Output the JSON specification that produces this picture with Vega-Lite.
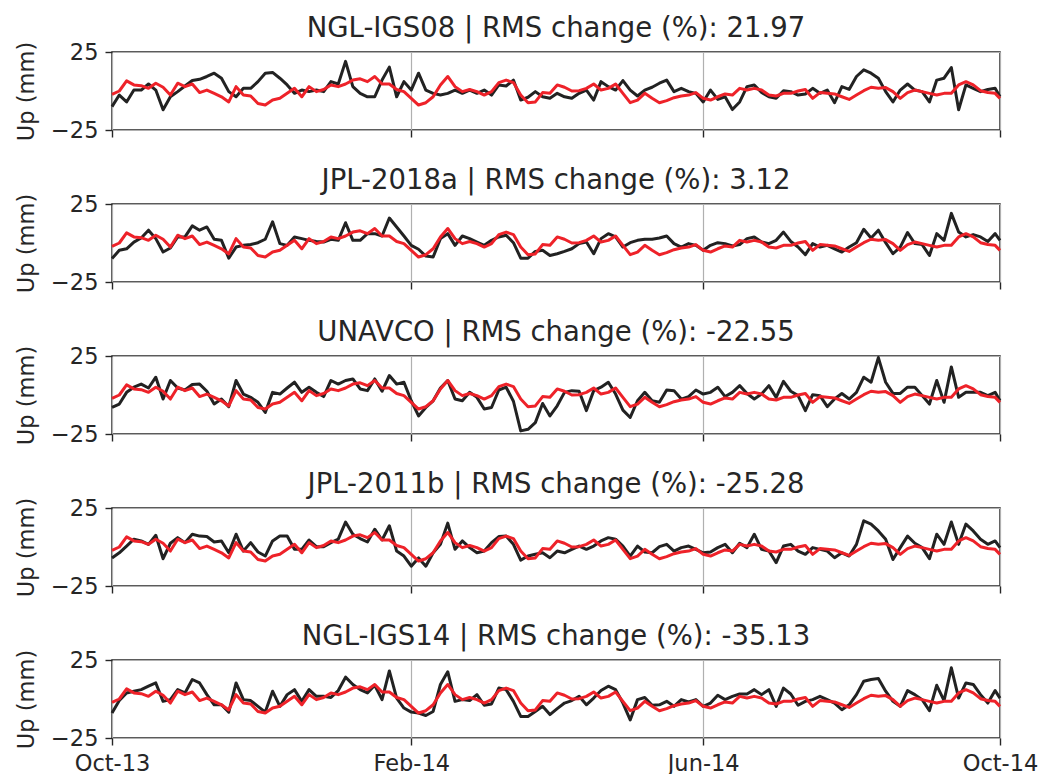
{
"$schema": "https://vega.github.io/schema/vega-lite/v6.json",
"padding": {"top": 13, "left": 14, "right": 5, "bottom": 0},
"background": "white",
"datasets": {
"ts": [
{"t":"2013-10-01","ngl08":-10,"jpl18":-10,"unavco":-8,"jpl11":-7,"ngl14":-9,"model":-2.2},
{"t":"2013-10-04","ngl08":-2.6,"jpl18":-4.7,"unavco":-5.8,"jpl11":-3.7,"ngl14":-1,"model":0},
{"t":"2013-10-07","ngl08":-7,"jpl18":-3.7,"unavco":1.7,"jpl11":0.6,"ngl14":3.9,"model":6.5},
{"t":"2013-10-10","ngl08":0.6,"jpl18":0.6,"unavco":5,"jpl11":5,"ngl14":5,"model":3.9},
{"t":"2013-10-13","ngl08":0.6,"jpl18":3.2,"unavco":7,"jpl11":3.9,"ngl14":6,"model":3.4},
{"t":"2013-10-16","ngl08":4.5,"jpl18":8.2,"unavco":4.5,"jpl11":1.7,"ngl14":8.2,"model":1.7},
{"t":"2013-10-19","ngl08":0.6,"jpl18":2.8,"unavco":11.4,"jpl11":7.5,"ngl14":10.3,"model":5},
{"t":"2013-10-22","ngl08":-12,"jpl18":-5.8,"unavco":-2.6,"jpl11":-7.5,"ngl14":-1.5,"model":2.4},
{"t":"2013-10-25","ngl08":-3.7,"jpl18":-3.2,"unavco":9.3,"jpl11":2.4,"ngl14":-0.4,"model":-2.6},
{"t":"2013-10-28","ngl08":-0.4,"jpl18":3.9,"unavco":4.5,"jpl11":6,"ngl14":6,"model":5},
{"t":"2013-10-31","ngl08":3.2,"jpl18":3.9,"unavco":3.2,"jpl11":2.8,"ngl14":3.9,"model":2.8},
{"t":"2013-11-03","ngl08":6.7,"jpl18":11,"unavco":6.7,"jpl11":8.2,"ngl14":12.5,"model":4.5},
{"t":"2013-11-06","ngl08":7.5,"jpl18":8.2,"unavco":7,"jpl11":7,"ngl14":10.3,"model":-1},
{"t":"2013-11-09","ngl08":9.3,"jpl18":10.3,"unavco":2.4,"jpl11":6.7,"ngl14":2.8,"model":0.6},
{"t":"2013-11-12","ngl08":11.4,"jpl18":2.4,"unavco":-5.8,"jpl11":3.2,"ngl14":-3.7,"model":-1.5},
{"t":"2013-11-15","ngl08":8.2,"jpl18":1.7,"unavco":-2.6,"jpl11":3.9,"ngl14":-3.7,"model":-3.7},
{"t":"2013-11-18","ngl08":-0.4,"jpl18":-9.7,"unavco":-7.5,"jpl11":-3.7,"ngl14":-8.4,"model":-7},
{"t":"2013-11-21","ngl08":-3.7,"jpl18":-2.6,"unavco":9.3,"jpl11":8.2,"ngl14":10.3,"model":2.8},
{"t":"2013-11-24","ngl08":1.7,"jpl18":-1.5,"unavco":0.6,"jpl11":-2.6,"ngl14":-0.4,"model":-2.6},
{"t":"2013-11-27","ngl08":1.7,"jpl18":-1,"unavco":-1.5,"jpl11":2.8,"ngl14":-1,"model":-3.2},
{"t":"2013-11-30","ngl08":6,"jpl18":0.2,"unavco":-4.7,"jpl11":-3.2,"ngl14":-4.7,"model":-8},
{"t":"2013-12-03","ngl08":11.4,"jpl18":2.4,"unavco":-11.2,"jpl11":-5.8,"ngl14":-8.4,"model":-9},
{"t":"2013-12-06","ngl08":11.9,"jpl18":13.6,"unavco":1.7,"jpl11":3.9,"ngl14":5,"model":-5.8},
{"t":"2013-12-09","ngl08":8.2,"jpl18":-0.4,"unavco":0.6,"jpl11":7,"ngl14":-4.7,"model":-4.7},
{"t":"2013-12-12","ngl08":3.9,"jpl18":-1.5,"unavco":4.5,"jpl11":7,"ngl14":2.8,"model":-1.5},
{"t":"2013-12-15","ngl08":-1.5,"jpl18":3.9,"unavco":8.2,"jpl11":-1.5,"ngl14":6,"model":1.7},
{"t":"2013-12-18","ngl08":0.6,"jpl18":2.8,"unavco":1.7,"jpl11":-1.5,"ngl14":-1.5,"model":-3.7},
{"t":"2013-12-21","ngl08":-0.4,"jpl18":1.7,"unavco":5,"jpl11":4.5,"ngl14":6,"model":2.8},
{"t":"2013-12-24","ngl08":0.6,"jpl18":1,"unavco":1.7,"jpl11":0.2,"ngl14":1.7,"model":-0.4},
{"t":"2013-12-27","ngl08":-0.4,"jpl18":0.6,"unavco":-1,"jpl11":0.2,"ngl14":1.7,"model":1},
{"t":"2013-12-30","ngl08":6,"jpl18":2.4,"unavco":9.3,"jpl11":2.8,"ngl14":1,"model":3.9},
{"t":"2014-01-02","ngl08":4.5,"jpl18":1.7,"unavco":7,"jpl11":5,"ngl14":5.4,"model":2.8},
{"t":"2014-01-05","ngl08":19,"jpl18":13,"unavco":9.3,"jpl11":16,"ngl14":14,"model":4.5},
{"t":"2014-01-08","ngl08":2.8,"jpl18":1.7,"unavco":10.3,"jpl11":8.2,"ngl14":9.3,"model":7},
{"t":"2014-01-11","ngl08":-1.5,"jpl18":1.7,"unavco":3.9,"jpl11":5.4,"ngl14":6,"model":7.8},
{"t":"2014-01-14","ngl08":-3.7,"jpl18":6,"unavco":2.8,"jpl11":3.2,"ngl14":3.9,"model":6},
{"t":"2014-01-17","ngl08":-3.7,"jpl18":6,"unavco":10.3,"jpl11":11.4,"ngl14":8.8,"model":9.3},
{"t":"2014-01-20","ngl08":7,"jpl18":4.5,"unavco":2.4,"jpl11":4.5,"ngl14":-0.4,"model":4.5},
{"t":"2014-01-23","ngl08":15.3,"jpl18":16,"unavco":12.5,"jpl11":13.6,"ngl14":18,"model":4.5},
{"t":"2014-01-26","ngl08":-3.7,"jpl18":10.3,"unavco":7,"jpl11":-2.6,"ngl14":0.6,"model":1},
{"t":"2014-01-29","ngl08":6,"jpl18":4.5,"unavco":8.2,"jpl11":-5.8,"ngl14":-5.8,"model":-0.4},
{"t":"2014-02-01","ngl08":0.6,"jpl18":-1.5,"unavco":-3.7,"jpl11":-12.3,"ngl14":-8.4,"model":-4.7},
{"t":"2014-02-04","ngl08":11.4,"jpl18":-4,"unavco":-13.4,"jpl11":-7,"ngl14":-9,"model":-9},
{"t":"2014-02-07","ngl08":0.6,"jpl18":-8.4,"unavco":-8,"jpl11":-12.3,"ngl14":-10.6,"model":-7.5},
{"t":"2014-02-10","ngl08":-1.5,"jpl18":-9,"unavco":-3.7,"jpl11":-3.7,"ngl14":-8,"model":-3.7},
{"t":"2014-02-13","ngl08":-2.6,"jpl18":2.8,"unavco":4.5,"jpl11":1.7,"ngl14":9.3,"model":3.9},
{"t":"2014-02-16","ngl08":-1.5,"jpl18":6,"unavco":9.3,"jpl11":15.3,"ngl14":17.5,"model":9.3},
{"t":"2014-02-19","ngl08":0.6,"jpl18":-1.5,"unavco":-2.6,"jpl11":-1.5,"ngl14":-1.5,"model":2.8},
{"t":"2014-02-22","ngl08":-1.5,"jpl18":4.5,"unavco":-3.7,"jpl11":3.9,"ngl14":-0.4,"model":-0.4},
{"t":"2014-02-25","ngl08":0.6,"jpl18":2.8,"unavco":1.7,"jpl11":-0.4,"ngl14":-1,"model":1},
{"t":"2014-02-28","ngl08":-1.5,"jpl18":0.6,"unavco":-1.5,"jpl11":-3.7,"ngl14":2.8,"model":-0.4},
{"t":"2014-03-03","ngl08":0.6,"jpl18":-1.5,"unavco":-9,"jpl11":-2.6,"ngl14":-4,"model":-2.6},
{"t":"2014-03-06","ngl08":-2.6,"jpl18":1.7,"unavco":-8,"jpl11":2.8,"ngl14":-3.2,"model":-0.4},
{"t":"2014-03-09","ngl08":3.9,"jpl18":3.9,"unavco":3.2,"jpl11":6.7,"ngl14":7,"model":5.4},
{"t":"2014-03-12","ngl08":3.2,"jpl18":5,"unavco":5,"jpl11":7,"ngl14":6,"model":7},
{"t":"2014-03-15","ngl08":7,"jpl18":0.2,"unavco":-4,"jpl11":1.7,"ngl14":-1.5,"model":5.4},
{"t":"2014-03-18","ngl08":-5.8,"jpl18":-9.7,"unavco":-23,"jpl11":-8.4,"ngl14":-11.2,"model":-2.6},
{"t":"2014-03-21","ngl08":-4,"jpl18":-9.7,"unavco":-22,"jpl11":-5.8,"ngl14":-11.2,"model":-7.5},
{"t":"2014-03-24","ngl08":-0.4,"jpl18":-5.4,"unavco":-17.7,"jpl11":-4.7,"ngl14":-8,"model":-7},
{"t":"2014-03-27","ngl08":-3.7,"jpl18":-4.7,"unavco":-5.4,"jpl11":-3.7,"ngl14":-4.7,"model":-1},
{"t":"2014-03-30","ngl08":-4.7,"jpl18":-8,"unavco":-13.4,"jpl11":-6.9,"ngl14":-10,"model":-1.5},
{"t":"2014-04-02","ngl08":-1.5,"jpl18":-6.9,"unavco":-6.9,"jpl11":-2.6,"ngl14":-6.2,"model":3.9},
{"t":"2014-04-05","ngl08":-3.7,"jpl18":-5.4,"unavco":1.7,"jpl11":-3.7,"ngl14":-2.6,"model":2.4},
{"t":"2014-04-08","ngl08":-4.7,"jpl18":-3.7,"unavco":2.8,"jpl11":-1.5,"ngl14":-1,"model":0},
{"t":"2014-04-11","ngl08":-1.5,"jpl18":-0.4,"unavco":2.4,"jpl11":0.6,"ngl14":1.7,"model":0.2},
{"t":"2014-04-14","ngl08":0.6,"jpl18":0.6,"unavco":-10,"jpl11":-1.5,"ngl14":-3.7,"model":1.7},
{"t":"2014-04-17","ngl08":-5.8,"jpl18":-6.9,"unavco":2.8,"jpl11":0.6,"ngl14":0.6,"model":4.5},
{"t":"2014-04-20","ngl08":6,"jpl18":2.8,"unavco":5,"jpl11":3.9,"ngl14":5.4,"model":0.6},
{"t":"2014-04-23","ngl08":2.8,"jpl18":6,"unavco":8.2,"jpl11":6,"ngl14":8.2,"model":1.7},
{"t":"2014-04-26","ngl08":0.6,"jpl18":3.9,"unavco":0.6,"jpl11":5,"ngl14":6,"model":4.5},
{"t":"2014-04-29","ngl08":6.7,"jpl18":-2.6,"unavco":-9.7,"jpl11":0.6,"ngl14":-2.6,"model":-1.5},
{"t":"2014-05-02","ngl08":0.6,"jpl18":0.2,"unavco":-14.4,"jpl11":-5.8,"ngl14":-13.4,"model":-7.5},
{"t":"2014-05-05","ngl08":-3.2,"jpl18":1.7,"unavco":-3.7,"jpl11":0.6,"ngl14":-0.4,"model":-5.8},
{"t":"2014-05-08","ngl08":0.6,"jpl18":2.4,"unavco":1.7,"jpl11":-3.2,"ngl14":1,"model":-1.5},
{"t":"2014-05-11","ngl08":2.4,"jpl18":2.4,"unavco":-3.7,"jpl11":-3.7,"ngl14":-4,"model":-4.7},
{"t":"2014-05-14","ngl08":5,"jpl18":3.2,"unavco":-4.7,"jpl11":0.2,"ngl14":-3.7,"model":-7.5},
{"t":"2014-05-17","ngl08":7,"jpl18":4.5,"unavco":3.2,"jpl11":1.7,"ngl14":-1.5,"model":-6.2},
{"t":"2014-05-20","ngl08":-0.4,"jpl18":-0.4,"unavco":2.8,"jpl11":-2.6,"ngl14":-4.7,"model":-4.3},
{"t":"2014-05-23","ngl08":1.7,"jpl18":-2.6,"unavco":-2.6,"jpl11":-0.4,"ngl14":-0.4,"model":-3.2},
{"t":"2014-05-26","ngl08":-0.4,"jpl18":-0.4,"unavco":-1,"jpl11":0.6,"ngl14":-1.9,"model":-2.6},
{"t":"2014-05-29","ngl08":-1.5,"jpl18":-1.5,"unavco":3.2,"jpl11":-1.5,"ngl14":-0.4,"model":-1},
{"t":"2014-06-01","ngl08":-7,"jpl18":-4.7,"unavco":0.6,"jpl11":-3.7,"ngl14":-4.7,"model":-4.7},
{"t":"2014-06-04","ngl08":0.6,"jpl18":-1.5,"unavco":1.7,"jpl11":-3.2,"ngl14":-2.6,"model":-5.8},
{"t":"2014-06-07","ngl08":-5.4,"jpl18":0.2,"unavco":5,"jpl11":-0.4,"ngl14":2.4,"model":-3.7},
{"t":"2014-06-10","ngl08":-3.7,"jpl18":-0.4,"unavco":-1,"jpl11":1.7,"ngl14":-0.4,"model":-1.9},
{"t":"2014-06-13","ngl08":-11.9,"jpl18":-1.9,"unavco":1.7,"jpl11":-3.7,"ngl14":1.7,"model":-2.6},
{"t":"2014-06-16","ngl08":-7,"jpl18":-1,"unavco":6,"jpl11":2.4,"ngl14":3.2,"model":1.7},
{"t":"2014-06-19","ngl08":2.8,"jpl18":2.8,"unavco":1,"jpl11":-0.4,"ngl14":3.2,"model":0.6},
{"t":"2014-06-22","ngl08":3.9,"jpl18":3.9,"unavco":-2.6,"jpl11":8.2,"ngl14":6,"model":1.7},
{"t":"2014-06-25","ngl08":-1,"jpl18":0.6,"unavco":0.6,"jpl11":-1.5,"ngl14":2.8,"model":0.6},
{"t":"2014-06-28","ngl08":-3.7,"jpl18":-0.4,"unavco":6,"jpl11":-2.6,"ngl14":6,"model":-2.6},
{"t":"2014-07-01","ngl08":-4.7,"jpl18":1.7,"unavco":-1.5,"jpl11":-10,"ngl14":-4.7,"model":-3.2},
{"t":"2014-07-04","ngl08":0.2,"jpl18":7,"unavco":8.8,"jpl11":0.6,"ngl14":7,"model":-1.5},
{"t":"2014-07-07","ngl08":-0.4,"jpl18":1,"unavco":2.4,"jpl11":1.7,"ngl14":3.2,"model":-1.5},
{"t":"2014-07-10","ngl08":-2.6,"jpl18":-2.6,"unavco":-0.4,"jpl11":-2.6,"ngl14":-4,"model":0},
{"t":"2014-07-13","ngl08":-1.9,"jpl18":-7.5,"unavco":-10,"jpl11":-4.7,"ngl14":-1.5,"model":1},
{"t":"2014-07-16","ngl08":1.7,"jpl18":-0.4,"unavco":0.2,"jpl11":-0.4,"ngl14":-0.4,"model":-4.7},
{"t":"2014-07-19","ngl08":-1.5,"jpl18":-2.6,"unavco":-0.4,"jpl11":-1.5,"ngl14":1.7,"model":-1},
{"t":"2014-07-22","ngl08":0.6,"jpl18":-1.5,"unavco":-7.5,"jpl11":-2.6,"ngl14":-0.4,"model":-1.5},
{"t":"2014-07-25","ngl08":-7.5,"jpl18":-3.7,"unavco":-2.6,"jpl11":-6.9,"ngl14":-2.6,"model":-1.9},
{"t":"2014-07-28","ngl08":2.8,"jpl18":-5.8,"unavco":1,"jpl11":-3.7,"ngl14":-6.9,"model":-3.7},
{"t":"2014-07-31","ngl08":1,"jpl18":-2.6,"unavco":-2.6,"jpl11":-5.8,"ngl14":-3.7,"model":-5.4},
{"t":"2014-08-03","ngl08":9.3,"jpl18":0.2,"unavco":1.7,"jpl11":1.7,"ngl14":2.8,"model":-2.6},
{"t":"2014-08-06","ngl08":13.6,"jpl18":8.8,"unavco":11.4,"jpl11":16.8,"ngl14":11.4,"model":0.2},
{"t":"2014-08-09","ngl08":11.4,"jpl18":3.2,"unavco":8.2,"jpl11":14.7,"ngl14":12.5,"model":2.4},
{"t":"2014-08-12","ngl08":8.2,"jpl18":8.2,"unavco":24,"jpl11":10.3,"ngl14":13.1,"model":1.7},
{"t":"2014-08-15","ngl08":-0.4,"jpl18":0.2,"unavco":8.2,"jpl11":5,"ngl14":5,"model":2.2},
{"t":"2014-08-18","ngl08":-7,"jpl18":-6.9,"unavco":1,"jpl11":-8,"ngl14":-1.5,"model":-0.4},
{"t":"2014-08-21","ngl08":0.6,"jpl18":-2.6,"unavco":1,"jpl11":-0.4,"ngl14":-4.7,"model":-4.7},
{"t":"2014-08-24","ngl08":4.5,"jpl18":6.7,"unavco":5,"jpl11":7,"ngl14":5.4,"model":-1},
{"t":"2014-08-27","ngl08":0.6,"jpl18":-0.4,"unavco":5,"jpl11":2.4,"ngl14":2.8,"model":0.6},
{"t":"2014-08-30","ngl08":-0.4,"jpl18":-1,"unavco":-0.4,"jpl11":-0.4,"ngl14":-0.4,"model":-0.4},
{"t":"2014-09-02","ngl08":-7,"jpl18":-8,"unavco":-5.8,"jpl11":-7.5,"ngl14":-7.5,"model":-1.5},
{"t":"2014-09-05","ngl08":7,"jpl18":6,"unavco":9.3,"jpl11":8.2,"ngl14":8.8,"model":-2.6},
{"t":"2014-09-08","ngl08":8.2,"jpl18":1.7,"unavco":-4.7,"jpl11":1.7,"ngl14":-1,"model":-1.5},
{"t":"2014-09-11","ngl08":15,"jpl18":19,"unavco":18,"jpl11":16,"ngl14":20,"model":-1.5},
{"t":"2014-09-14","ngl08":-12,"jpl18":7,"unavco":-1.5,"jpl11":1.7,"ngl14":0.6,"model":3.9},
{"t":"2014-09-17","ngl08":3.9,"jpl18":3.9,"unavco":1.7,"jpl11":14.7,"ngl14":10.3,"model":6},
{"t":"2014-09-20","ngl08":1.7,"jpl18":5.4,"unavco":1.7,"jpl11":10.3,"ngl14":9.3,"model":3.9},
{"t":"2014-09-23","ngl08":-0.4,"jpl18":3.9,"unavco":1.7,"jpl11":5,"ngl14":2.8,"model":0.2},
{"t":"2014-09-26","ngl08":1,"jpl18":1,"unavco":-0.4,"jpl11":1.7,"ngl14":-2.6,"model":-1},
{"t":"2014-09-29","ngl08":1.7,"jpl18":6,"unavco":1.7,"jpl11":3.9,"ngl14":5.4,"model":-1.5},
{"t":"2014-10-01","ngl08":-3.7,"jpl18":1.7,"unavco":-3.7,"jpl11":-0.4,"ngl14":0.6,"model":-4.7}
]
},
"config": {
"font": "DejaVu Sans",
"view": {"stroke": "#262626", "strokeWidth": 1.5},
"axis": {"domain": false, "gridColor": "#b0b0b0", "gridWidth": 1.2, "tickColor": "#262626", "tickWidth": 1.4, "tickSize": 7, "labelFontSize": 22.5, "labelColor": "#262626", "labelPadding": 7, "titleFontSize": 22.5, "titleFontWeight": "normal", "titleColor": "#262626", "titlePadding": 12},
"title": {"fontSize": 27.5, "fontWeight": "normal", "color": "#262626", "offset": -1, "baseline": "alphabetic", "frame": "group", "anchor": "middle"},
"concat": {"spacing": 22},
"line": {"clip": true, "strokeWidth": 3, "strokeJoin": "round", "interpolate": "linear"}
},
"vconcat": [
{"title": "NGL-IGS08 | RMS change (%): 21.97", "width": 888, "height": 78, "data": {"name": "ts"},
 "encoding": {"x": {"field": "t", "type": "temporal", "scale": {"type": "utc", "domain": [{"year": 2013, "month": 10, "date": 1, "utc": true}, {"year": 2014, "month": 10, "date": 1, "utc": true}]}, "axis": {"title": null, "labels": false, "values": [{"year": 2013, "month": 10, "date": 1, "utc": true}, {"year": 2014, "month": 2, "date": 1, "utc": true}, {"year": 2014, "month": 6, "date": 1, "utc": true}, {"year": 2014, "month": 10, "date": 1, "utc": true}]}}},
 "layer": [
  {"mark": {"type": "line", "color": "#222222"}, "encoding": {"y": {"field": "ngl08", "type": "quantitative", "scale": {"domain": [-25, 25], "nice": false}, "axis": {"title": "Up (mm)", "values": [-25, 0, 25], "labelExpr": "replace(datum.label, '-', '\u2212')"}}}},
  {"mark": {"type": "line", "color": "#ee2229"}, "encoding": {"y": {"field": "model", "type": "quantitative"}}}
 ]},
{"title": "JPL-2018a | RMS change (%): 3.12", "width": 888, "height": 78, "data": {"name": "ts"},
 "encoding": {"x": {"field": "t", "type": "temporal", "scale": {"type": "utc", "domain": [{"year": 2013, "month": 10, "date": 1, "utc": true}, {"year": 2014, "month": 10, "date": 1, "utc": true}]}, "axis": {"title": null, "labels": false, "values": [{"year": 2013, "month": 10, "date": 1, "utc": true}, {"year": 2014, "month": 2, "date": 1, "utc": true}, {"year": 2014, "month": 6, "date": 1, "utc": true}, {"year": 2014, "month": 10, "date": 1, "utc": true}]}}},
 "layer": [
  {"mark": {"type": "line", "color": "#222222"}, "encoding": {"y": {"field": "jpl18", "type": "quantitative", "scale": {"domain": [-25, 25], "nice": false}, "axis": {"title": "Up (mm)", "values": [-25, 0, 25], "labelExpr": "replace(datum.label, '-', '\u2212')"}}}},
  {"mark": {"type": "line", "color": "#ee2229"}, "encoding": {"y": {"field": "model", "type": "quantitative"}}}
 ]},
{"title": "UNAVCO | RMS change (%): -22.55", "width": 888, "height": 78, "data": {"name": "ts"},
 "encoding": {"x": {"field": "t", "type": "temporal", "scale": {"type": "utc", "domain": [{"year": 2013, "month": 10, "date": 1, "utc": true}, {"year": 2014, "month": 10, "date": 1, "utc": true}]}, "axis": {"title": null, "labels": false, "values": [{"year": 2013, "month": 10, "date": 1, "utc": true}, {"year": 2014, "month": 2, "date": 1, "utc": true}, {"year": 2014, "month": 6, "date": 1, "utc": true}, {"year": 2014, "month": 10, "date": 1, "utc": true}]}}},
 "layer": [
  {"mark": {"type": "line", "color": "#222222"}, "encoding": {"y": {"field": "unavco", "type": "quantitative", "scale": {"domain": [-25, 25], "nice": false}, "axis": {"title": "Up (mm)", "values": [-25, 0, 25], "labelExpr": "replace(datum.label, '-', '\u2212')"}}}},
  {"mark": {"type": "line", "color": "#ee2229"}, "encoding": {"y": {"field": "model", "type": "quantitative"}}}
 ]},
{"title": "JPL-2011b | RMS change (%): -25.28", "width": 888, "height": 78, "data": {"name": "ts"},
 "encoding": {"x": {"field": "t", "type": "temporal", "scale": {"type": "utc", "domain": [{"year": 2013, "month": 10, "date": 1, "utc": true}, {"year": 2014, "month": 10, "date": 1, "utc": true}]}, "axis": {"title": null, "labels": false, "values": [{"year": 2013, "month": 10, "date": 1, "utc": true}, {"year": 2014, "month": 2, "date": 1, "utc": true}, {"year": 2014, "month": 6, "date": 1, "utc": true}, {"year": 2014, "month": 10, "date": 1, "utc": true}]}}},
 "layer": [
  {"mark": {"type": "line", "color": "#222222"}, "encoding": {"y": {"field": "jpl11", "type": "quantitative", "scale": {"domain": [-25, 25], "nice": false}, "axis": {"title": "Up (mm)", "values": [-25, 0, 25], "labelExpr": "replace(datum.label, '-', '\u2212')"}}}},
  {"mark": {"type": "line", "color": "#ee2229"}, "encoding": {"y": {"field": "model", "type": "quantitative"}}}
 ]},
{"title": "NGL-IGS14 | RMS change (%): -35.13", "width": 888, "height": 78, "data": {"name": "ts"},
 "encoding": {"x": {"field": "t", "type": "temporal", "scale": {"type": "utc", "domain": [{"year": 2013, "month": 10, "date": 1, "utc": true}, {"year": 2014, "month": 10, "date": 1, "utc": true}]}, "axis": {"title": null, "labelExpr": "utcFormat(datum.value, '%b-%y')", "labelFlush": false, "labelOverlap": false, "values": [{"year": 2013, "month": 10, "date": 1, "utc": true}, {"year": 2014, "month": 2, "date": 1, "utc": true}, {"year": 2014, "month": 6, "date": 1, "utc": true}, {"year": 2014, "month": 10, "date": 1, "utc": true}]}}},
 "layer": [
  {"mark": {"type": "line", "color": "#222222"}, "encoding": {"y": {"field": "ngl14", "type": "quantitative", "scale": {"domain": [-25, 25], "nice": false}, "axis": {"title": "Up (mm)", "values": [-25, 0, 25], "labelExpr": "replace(datum.label, '-', '\u2212')"}}}},
  {"mark": {"type": "line", "color": "#ee2229"}, "encoding": {"y": {"field": "model", "type": "quantitative"}}}
 ]}
]
}
